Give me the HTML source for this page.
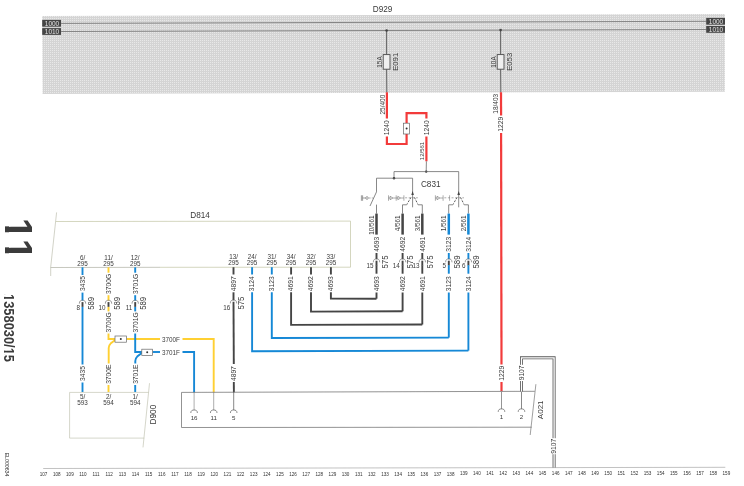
<!DOCTYPE html>
<html><head><meta charset="utf-8"><title>Wiring diagram 11</title>
<style>html,body{margin:0;padding:0;background:#fff}svg{display:block}text{font-family:"Liberation Sans",sans-serif}</style>
</head><body>
<svg width="744" height="486" viewBox="0 0 744 486">
<rect width="744" height="486" fill="#fff"/>
<g opacity="0.999" filter="url(#soft)">
<defs><filter id="soft" x="0" y="0" width="744" height="486" filterUnits="userSpaceOnUse"><feGaussianBlur stdDeviation="0.35"/></filter><pattern id="dots" width="2" height="2" patternUnits="userSpaceOnUse"><rect width="2" height="2" fill="#d4d4d4"/><rect x="0" y="0" width="1" height="1" fill="#e8e8e8"/></pattern></defs>
<polygon points="42.2,16 724.9,14 724.9,91.8 42.6,93.9" fill="url(#dots)"/>
<line x1="61" y1="23.4" x2="706.4" y2="21.3" stroke="#7a7a7a" stroke-width="0.9" />
<line x1="61" y1="31.5" x2="706.4" y2="29.5" stroke="#7a7a7a" stroke-width="0.9" />
<rect x="42.2" y="19.9" width="18.8" height="6.8" fill="#444"/>
<g transform="translate(52 25.74) scale(0.1)"><text font-size="65" text-anchor="middle" fill="#e4e4e4">1000</text></g>
<rect x="42.2" y="28.1" width="18.8" height="6.8" fill="#444"/>
<g transform="translate(52 33.94) scale(0.1)"><text font-size="65" text-anchor="middle" fill="#e4e4e4">1010</text></g>
<rect x="706.2" y="17.9" width="18.8" height="6.8" fill="#444"/>
<g transform="translate(716 23.74) scale(0.1)"><text font-size="65" text-anchor="middle" fill="#e4e4e4">1000</text></g>
<rect x="706.2" y="26.0" width="18.8" height="6.8" fill="#444"/>
<g transform="translate(716 31.84) scale(0.1)"><text font-size="65" text-anchor="middle" fill="#e4e4e4">1010</text></g>
<g transform="translate(382.6 11.67) scale(0.1)"><text font-size="82" text-anchor="middle" fill="#3a3a3a">D929</text></g>
<line x1="386.6" y1="30.5" x2="386.6" y2="54.5" stroke="#555" stroke-width="0.9" />
<line x1="386.6" y1="69.2" x2="386.8" y2="92.5" stroke="#555" stroke-width="0.9" />
<circle cx="386.6" cy="30.5" r="1.3" fill="#444"/>
<rect x="383.20000000000005" y="54.6" width="6.8" height="14.6" fill="#efefef" stroke="#4a4a4a" stroke-width="0.9"/>
<g transform="translate(382.4 62) rotate(-90) scale(0.1)"><text font-size="64" text-anchor="middle" fill="#3a3a3a">15A</text></g>
<g transform="translate(398.45 61.8) rotate(-90) scale(0.1)"><text font-size="77" text-anchor="middle" fill="#3a3a3a">E091</text></g>
<line x1="500.6" y1="30.1" x2="500.6" y2="54.5" stroke="#555" stroke-width="0.9" />
<line x1="500.6" y1="69.2" x2="500.8" y2="92.5" stroke="#555" stroke-width="0.9" />
<circle cx="500.6" cy="30.1" r="1.3" fill="#444"/>
<rect x="497.20000000000005" y="54.6" width="6.8" height="14.6" fill="#efefef" stroke="#4a4a4a" stroke-width="0.9"/>
<g transform="translate(496.4 62) rotate(-90) scale(0.1)"><text font-size="64" text-anchor="middle" fill="#3a3a3a">10A</text></g>
<g transform="translate(512.45 61.8) rotate(-90) scale(0.1)"><text font-size="77" text-anchor="middle" fill="#3a3a3a">E053</text></g>
<g transform="translate(384.74 104.6) rotate(-90) scale(0.1)"><text font-size="65" text-anchor="middle" fill="#3a3a3a">25/400</text></g>
<line x1="386.9" y1="92.3" x2="386.9" y2="118.5" stroke="#f23b3b" stroke-width="2.2" />
<g transform="translate(389.2 127.8) rotate(-90) scale(0.1)"><text font-size="67" text-anchor="middle" fill="#3a3a3a">1240</text></g>
<path d="M386.9 136.5 V144 H406.6 V134" stroke="#f23b3b" stroke-width="2.2" fill="none" />
<path d="M406.6 123.2 V113.1 H426.4 V118.5" stroke="#f23b3b" stroke-width="2.2" fill="none" />
<rect x="403.6" y="123.2" width="6" height="10.8" fill="#fff" stroke="#666" stroke-width="0.7"/>
<circle cx="406.6" cy="128.6" r="1" fill="#333"/>
<g transform="translate(428.7 127.8) rotate(-90) scale(0.1)"><text font-size="67" text-anchor="middle" fill="#3a3a3a">1240</text></g>
<line x1="426.4" y1="136.5" x2="426.4" y2="161.3" stroke="#f23b3b" stroke-width="2.2" />
<g transform="translate(423.96 151) rotate(-90) scale(0.1)"><text font-size="60" text-anchor="middle" fill="#3a3a3a">12/561</text></g>
<line x1="426.4" y1="161.3" x2="426.2" y2="171.6" stroke="#6a6a6a" stroke-width="0.8" />
<g transform="translate(498.04 103.8) rotate(-90) scale(0.1)"><text font-size="65" text-anchor="middle" fill="#3a3a3a">18/403</text></g>
<line x1="501" y1="92.2" x2="501.1" y2="115.5" stroke="#f23b3b" stroke-width="2.2" />
<g transform="translate(503.4 124.3) rotate(-90) scale(0.1)"><text font-size="67" text-anchor="middle" fill="#3a3a3a">1229</text></g>
<line x1="501.1" y1="133" x2="501.5" y2="364.5" stroke="#f23b3b" stroke-width="2.2" />
<g transform="translate(503.8 373.2) rotate(-90) scale(0.1)"><text font-size="67" text-anchor="middle" fill="#3a3a3a">1229</text></g>
<line x1="501.5" y1="382" x2="501.5" y2="391.4" stroke="#f23b3b" stroke-width="2.2" />
<circle cx="426.2" cy="171.6" r="1.2" fill="#333"/>
<path d="M394 178.2 V171.6 H458.7 V207.3" stroke="#6a6a6a" stroke-width="0.8" fill="none" />
<circle cx="394" cy="178.2" r="1.2" fill="#333"/>
<path d="M376.5 191.9 V178.2 H412.6 V207.3" stroke="#6a6a6a" stroke-width="0.8" fill="none" />
<g transform="translate(430.7 187.02) scale(0.1)"><text font-size="82" text-anchor="middle" fill="#3a3a3a">C831</text></g>
<line x1="376.5" y1="191.9" x2="370" y2="206" stroke="#6a6a6a" stroke-width="0.8" />
<line x1="376.5" y1="204.6" x2="376.5" y2="213.6" stroke="#6a6a6a" stroke-width="0.8" />
<path d="M361.4 195.3 V200.8 M362.6 195.3 V200.8 M362.6 198 H365.6" stroke="#5a5a5a" stroke-width="0.6" fill="none" />
<circle cx="367" cy="198" r="1.3" fill="none" stroke="#5a5a5a" stroke-width="0.6"/>
<line x1="369" y1="198" x2="374" y2="198" stroke="#6a6a6a" stroke-width="0.55" stroke-dasharray="1.6 1.2"/>
<path d="M412.6 191 L411.3 195 L413.9 195 Z" fill="#444"/>
<path d="M402.5 213.6 V204.8 H406.7 L407.3 204" stroke="#6a6a6a" stroke-width="0.8" fill="none" />
<path d="M422.3 213.6 V204.8 H418.1 L417.5 204" stroke="#6a6a6a" stroke-width="0.8" fill="none" />
<line x1="411" y1="197.4" x2="407.1" y2="203.9" stroke="#484848" stroke-width="0.9" stroke-dasharray="2.1 1.3"/>
<line x1="414.4" y1="197.4" x2="417.7" y2="203.9" stroke="#484848" stroke-width="0.9" stroke-dasharray="2.1 1.3"/>
<path d="M458.7 191 L457.4 195 L460 195 Z" fill="#444"/>
<path d="M448.7 213.6 V204.8 H452.9 L453.5 204" stroke="#6a6a6a" stroke-width="0.8" fill="none" />
<path d="M468.4 213.6 V204.8 H464.2 L463.6 204" stroke="#6a6a6a" stroke-width="0.8" fill="none" />
<line x1="457.1" y1="197.4" x2="453.3" y2="203.9" stroke="#484848" stroke-width="0.9" stroke-dasharray="2.1 1.3"/>
<line x1="460.5" y1="197.4" x2="463.8" y2="203.9" stroke="#484848" stroke-width="0.9" stroke-dasharray="2.1 1.3"/>
<path d="M388.5 195.3 V200.8" stroke="#6a6a6a" stroke-width="0.55" fill="none" />
<path d="M388.5 198 H390.1" stroke="#6a6a6a" stroke-width="0.55" fill="none" />
<path d="M390.1 196.3 L392.9 198 L390.1 199.7 Z" fill="none" stroke="#5a5a5a" stroke-width="0.55"/>
<path d="M392.9 198 H396.2 M396.2 195.3 V200.8" stroke="#6a6a6a" stroke-width="0.55" fill="none" />
<path d="M396.2 198 H397.8" stroke="#6a6a6a" stroke-width="0.55" fill="none" />
<path d="M397.8 196.3 L400.6 198 L397.8 199.7 Z" fill="none" stroke="#5a5a5a" stroke-width="0.55"/>
<path d="M400.6 198 H403.9 M403.9 195.3 V200.8" stroke="#6a6a6a" stroke-width="0.55" fill="none" />
<line x1="405.1" y1="197.8" x2="418" y2="197.8" stroke="#6a6a6a" stroke-width="0.55" stroke-dasharray="2 1.6"/>
<path d="M435.4 195.3 V200.8" stroke="#6a6a6a" stroke-width="0.55" fill="none" />
<path d="M435.4 198 H437" stroke="#6a6a6a" stroke-width="0.55" fill="none" />
<path d="M437 196.3 L439.8 198 L437 199.7 Z" fill="none" stroke="#5a5a5a" stroke-width="0.55"/>
<path d="M439.8 198 H443.1 M443.1 195.3 V200.8" stroke="#6a6a6a" stroke-width="0.55" fill="none" />
<path d="M449.6 195.3 V200.8" stroke="#6a6a6a" stroke-width="0.55" fill="none" />
<line x1="444.3" y1="197.8" x2="464" y2="197.8" stroke="#6a6a6a" stroke-width="0.55" stroke-dasharray="2 1.6"/>
<line x1="376.5" y1="213.6" x2="376.5" y2="234.6" stroke="#444444" stroke-width="2.5" />
<g transform="translate(374.07 215.4) rotate(-90) scale(0.1)"><text font-size="63" text-anchor="end" fill="#3a3a3a">10/561</text></g>
<g transform="translate(378.8 244.2) rotate(-90) scale(0.1)"><text font-size="67" text-anchor="middle" fill="#3a3a3a">4693</text></g>
<line x1="376.5" y1="253" x2="376.5" y2="259.2" stroke="#444444" stroke-width="1.9" />
<path d="M373.3 262.3 C373.3 259.5 374.74 258.9 376.5 258.9 C378.26 258.9 379.7 259.5 379.7 262.3" stroke="#6a6a6a" stroke-width="0.65" fill="none" />
<line x1="376.5" y1="260.7" x2="376.5" y2="265.5" stroke="#444444" stroke-width="1.9" />
<g transform="translate(373.6 268.47) scale(0.1)"><text font-size="63" text-anchor="end" fill="#3a3a3a">15</text></g>
<g transform="translate(387.56 262) rotate(-90) scale(0.0870 0.1)"><text font-size="89" text-anchor="middle" fill="#3a3a3a">575</text></g>
<line x1="376.5" y1="265.2" x2="376.5" y2="273.7" stroke="#444444" stroke-width="1.9" />
<g transform="translate(378.8 283.8) rotate(-90) scale(0.1)"><text font-size="67" text-anchor="middle" fill="#3a3a3a">4693</text></g>
<line x1="376.5" y1="292.5" x2="376.5" y2="298.7" stroke="#444444" stroke-width="1.9" />
<line x1="402.6" y1="213.6" x2="402.6" y2="234.6" stroke="#444444" stroke-width="2.5" />
<g transform="translate(400.17 215.4) rotate(-90) scale(0.1)"><text font-size="63" text-anchor="end" fill="#3a3a3a">4/561</text></g>
<g transform="translate(404.9 244.2) rotate(-90) scale(0.1)"><text font-size="67" text-anchor="middle" fill="#3a3a3a">4692</text></g>
<line x1="402.6" y1="253" x2="402.6" y2="259.2" stroke="#444444" stroke-width="1.9" />
<path d="M399.4 262.3 C399.4 259.5 400.84 258.9 402.6 258.9 C404.36 258.9 405.8 259.5 405.8 262.3" stroke="#6a6a6a" stroke-width="0.65" fill="none" />
<line x1="402.6" y1="260.7" x2="402.6" y2="265.5" stroke="#444444" stroke-width="1.9" />
<g transform="translate(399.7 268.47) scale(0.1)"><text font-size="63" text-anchor="end" fill="#3a3a3a">14</text></g>
<g transform="translate(412.66 262) rotate(-90) scale(0.0870 0.1)"><text font-size="89" text-anchor="middle" fill="#3a3a3a">575</text></g>
<line x1="402.6" y1="265.2" x2="402.6" y2="273.7" stroke="#444444" stroke-width="1.9" />
<g transform="translate(404.9 283.8) rotate(-90) scale(0.1)"><text font-size="67" text-anchor="middle" fill="#3a3a3a">4692</text></g>
<line x1="402.6" y1="292.5" x2="402.6" y2="311.3" stroke="#444444" stroke-width="1.9" />
<line x1="422.3" y1="213.6" x2="422.3" y2="234.6" stroke="#444444" stroke-width="2.5" />
<g transform="translate(419.87 215.4) rotate(-90) scale(0.1)"><text font-size="63" text-anchor="end" fill="#3a3a3a">3/561</text></g>
<g transform="translate(424.6 244.2) rotate(-90) scale(0.1)"><text font-size="67" text-anchor="middle" fill="#3a3a3a">4691</text></g>
<line x1="422.3" y1="253" x2="422.3" y2="259.2" stroke="#444444" stroke-width="1.9" />
<path d="M419.1 262.3 C419.1 259.5 420.54 258.9 422.3 258.9 C424.06 258.9 425.5 259.5 425.5 262.3" stroke="#6a6a6a" stroke-width="0.65" fill="none" />
<line x1="422.3" y1="260.7" x2="422.3" y2="265.5" stroke="#444444" stroke-width="1.9" />
<g transform="translate(419.4 268.47) scale(0.1)"><text font-size="63" text-anchor="end" fill="#3a3a3a">13</text></g>
<g transform="translate(433.46 262) rotate(-90) scale(0.0870 0.1)"><text font-size="89" text-anchor="middle" fill="#3a3a3a">575</text></g>
<line x1="422.3" y1="265.2" x2="422.3" y2="273.7" stroke="#444444" stroke-width="1.9" />
<g transform="translate(424.6 283.8) rotate(-90) scale(0.1)"><text font-size="67" text-anchor="middle" fill="#3a3a3a">4691</text></g>
<line x1="422.3" y1="292.5" x2="422.3" y2="324.5" stroke="#444444" stroke-width="1.9" />
<line x1="448.8" y1="213.6" x2="448.8" y2="234.6" stroke="#1488d6" stroke-width="2.5" />
<g transform="translate(446.37 215.4) rotate(-90) scale(0.1)"><text font-size="63" text-anchor="end" fill="#3a3a3a">1/561</text></g>
<g transform="translate(451.1 244.2) rotate(-90) scale(0.1)"><text font-size="67" text-anchor="middle" fill="#3a3a3a">3123</text></g>
<line x1="448.8" y1="253" x2="448.8" y2="259.2" stroke="#1488d6" stroke-width="1.9" />
<path d="M445.6 262.3 C445.6 259.5 447.04 258.9 448.8 258.9 C450.56 258.9 452 259.5 452 262.3" stroke="#6a6a6a" stroke-width="0.65" fill="none" />
<line x1="448.8" y1="260.7" x2="448.8" y2="265.5" stroke="#444444" stroke-width="1.9" />
<g transform="translate(445.9 268.47) scale(0.1)"><text font-size="63" text-anchor="end" fill="#3a3a3a">5</text></g>
<g transform="translate(459.86 262) rotate(-90) scale(0.0870 0.1)"><text font-size="89" text-anchor="middle" fill="#3a3a3a">589</text></g>
<line x1="448.8" y1="265.2" x2="448.8" y2="273.7" stroke="#1488d6" stroke-width="1.9" />
<g transform="translate(451.1 283.8) rotate(-90) scale(0.1)"><text font-size="67" text-anchor="middle" fill="#3a3a3a">3123</text></g>
<line x1="448.8" y1="292.5" x2="448.8" y2="337.6" stroke="#1488d6" stroke-width="1.9" />
<line x1="468.4" y1="213.6" x2="468.4" y2="234.6" stroke="#1488d6" stroke-width="2.5" />
<g transform="translate(465.97 215.4) rotate(-90) scale(0.1)"><text font-size="63" text-anchor="end" fill="#3a3a3a">2/561</text></g>
<g transform="translate(470.7 244.2) rotate(-90) scale(0.1)"><text font-size="67" text-anchor="middle" fill="#3a3a3a">3124</text></g>
<line x1="468.4" y1="253" x2="468.4" y2="259.2" stroke="#1488d6" stroke-width="1.9" />
<path d="M465.2 262.3 C465.2 259.5 466.64 258.9 468.4 258.9 C470.16 258.9 471.6 259.5 471.6 262.3" stroke="#6a6a6a" stroke-width="0.65" fill="none" />
<line x1="468.4" y1="260.7" x2="468.4" y2="265.5" stroke="#444444" stroke-width="1.9" />
<g transform="translate(465.5 268.47) scale(0.1)"><text font-size="63" text-anchor="end" fill="#3a3a3a">6</text></g>
<g transform="translate(479.46 262) rotate(-90) scale(0.0870 0.1)"><text font-size="89" text-anchor="middle" fill="#3a3a3a">589</text></g>
<line x1="468.4" y1="265.2" x2="468.4" y2="273.7" stroke="#1488d6" stroke-width="1.9" />
<g transform="translate(470.7 283.8) rotate(-90) scale(0.1)"><text font-size="67" text-anchor="middle" fill="#3a3a3a">3124</text></g>
<line x1="468.4" y1="292.5" x2="468.4" y2="350.6" stroke="#1488d6" stroke-width="1.9" />
<path d="M56.6 212.4 L50.7 267 V276" stroke="#b4b5a2" stroke-width="0.6" fill="none" />
<path d="M55.8 221.5 L350.5 221.1 V267.2" stroke="#c2c4a4" stroke-width="0.7" fill="none" />
<path d="M350.5 267.2 L160 267.3" stroke="#c2c4a4" stroke-width="0.7" fill="none" />
<path d="M160 267.3 L50.7 267.5" stroke="#aeafa2" stroke-width="0.7" fill="none" />
<g transform="translate(200.1 218.02) scale(0.1)"><text font-size="82" text-anchor="middle" fill="#3a3a3a">D814</text></g>
<g transform="translate(82.5 259.57) scale(0.1)"><text font-size="63" text-anchor="middle" fill="#3a3a3a">6/</text></g>
<g transform="translate(82.5 265.77) scale(0.1)"><text font-size="63" text-anchor="middle" fill="#3a3a3a">295</text></g>
<g transform="translate(108.5 259.57) scale(0.1)"><text font-size="63" text-anchor="middle" fill="#3a3a3a">11/</text></g>
<g transform="translate(108.5 265.77) scale(0.1)"><text font-size="63" text-anchor="middle" fill="#3a3a3a">295</text></g>
<g transform="translate(135.2 259.57) scale(0.1)"><text font-size="63" text-anchor="middle" fill="#3a3a3a">12/</text></g>
<g transform="translate(135.2 265.77) scale(0.1)"><text font-size="63" text-anchor="middle" fill="#3a3a3a">295</text></g>
<g transform="translate(233.5 258.87) scale(0.1)"><text font-size="63" text-anchor="middle" fill="#3a3a3a">13/</text></g>
<g transform="translate(233.5 265.07) scale(0.1)"><text font-size="63" text-anchor="middle" fill="#3a3a3a">295</text></g>
<g transform="translate(252.1 258.87) scale(0.1)"><text font-size="63" text-anchor="middle" fill="#3a3a3a">24/</text></g>
<g transform="translate(252.1 265.07) scale(0.1)"><text font-size="63" text-anchor="middle" fill="#3a3a3a">295</text></g>
<g transform="translate(271.8 258.87) scale(0.1)"><text font-size="63" text-anchor="middle" fill="#3a3a3a">31/</text></g>
<g transform="translate(271.8 265.07) scale(0.1)"><text font-size="63" text-anchor="middle" fill="#3a3a3a">295</text></g>
<g transform="translate(291.1 258.87) scale(0.1)"><text font-size="63" text-anchor="middle" fill="#3a3a3a">34/</text></g>
<g transform="translate(291.1 265.07) scale(0.1)"><text font-size="63" text-anchor="middle" fill="#3a3a3a">295</text></g>
<g transform="translate(311 258.87) scale(0.1)"><text font-size="63" text-anchor="middle" fill="#3a3a3a">32/</text></g>
<g transform="translate(311 265.07) scale(0.1)"><text font-size="63" text-anchor="middle" fill="#3a3a3a">295</text></g>
<g transform="translate(330.9 258.87) scale(0.1)"><text font-size="63" text-anchor="middle" fill="#3a3a3a">33/</text></g>
<g transform="translate(330.9 265.07) scale(0.1)"><text font-size="63" text-anchor="middle" fill="#3a3a3a">295</text></g>
<line x1="330.9" y1="267.2" x2="330.9" y2="274.5" stroke="#444444" stroke-width="1.9" />
<g transform="translate(333.2 283.8) rotate(-90) scale(0.1)"><text font-size="67" text-anchor="middle" fill="#3a3a3a">4693</text></g>
<path d="M330.9 292.3 V298.6 L376.5 298.7" stroke="#444444" stroke-width="1.9" fill="none" stroke-linejoin="miter"/>
<line x1="311" y1="267.2" x2="311" y2="274.5" stroke="#444444" stroke-width="1.9" />
<g transform="translate(313.3 283.8) rotate(-90) scale(0.1)"><text font-size="67" text-anchor="middle" fill="#3a3a3a">4692</text></g>
<path d="M311 292.3 V311.6 L402.6 311.3" stroke="#444444" stroke-width="1.9" fill="none" stroke-linejoin="miter"/>
<line x1="291.1" y1="267.2" x2="291.1" y2="274.5" stroke="#444444" stroke-width="1.9" />
<g transform="translate(293.4 283.8) rotate(-90) scale(0.1)"><text font-size="67" text-anchor="middle" fill="#3a3a3a">4691</text></g>
<path d="M291.1 292.3 V324.9 L422.3 324.5" stroke="#444444" stroke-width="1.9" fill="none" stroke-linejoin="miter"/>
<line x1="271.8" y1="267.2" x2="271.8" y2="274.5" stroke="#1488d6" stroke-width="1.9" />
<g transform="translate(274.1 283.8) rotate(-90) scale(0.1)"><text font-size="67" text-anchor="middle" fill="#3a3a3a">3123</text></g>
<path d="M271.8 292.3 V338.0 L448.8 337.6" stroke="#1488d6" stroke-width="1.9" fill="none" stroke-linejoin="miter"/>
<line x1="252.1" y1="267.2" x2="252.1" y2="274.5" stroke="#1488d6" stroke-width="1.9" />
<g transform="translate(254.4 283.8) rotate(-90) scale(0.1)"><text font-size="67" text-anchor="middle" fill="#3a3a3a">3124</text></g>
<path d="M252.1 292.3 V351.3 L468.4 350.6" stroke="#1488d6" stroke-width="1.9" fill="none" stroke-linejoin="miter"/>
<line x1="233.5" y1="267.2" x2="233.5" y2="274.5" stroke="#444444" stroke-width="1.9" />
<g transform="translate(235.8 283.8) rotate(-90) scale(0.1)"><text font-size="67" text-anchor="middle" fill="#3a3a3a">4897</text></g>
<line x1="233.5" y1="292.3" x2="233.5" y2="300.3" stroke="#444444" stroke-width="1.9" />
<path d="M230.3 303.4 C230.3 300.6 231.74 300 233.5 300 C235.26 300 236.7 300.6 236.7 303.4" stroke="#6a6a6a" stroke-width="0.65" fill="none" />
<g transform="translate(230.3 309.57) scale(0.1)"><text font-size="63" text-anchor="end" fill="#3a3a3a">16</text></g>
<g transform="translate(244.16 303.1) rotate(-90) scale(0.0870 0.1)"><text font-size="89" text-anchor="middle" fill="#3a3a3a">575</text></g>
<line x1="233.5" y1="301.8" x2="233.8" y2="364" stroke="#444444" stroke-width="1.9" />
<g transform="translate(236.1 373.6) rotate(-90) scale(0.1)"><text font-size="67" text-anchor="middle" fill="#3a3a3a">4897</text></g>
<line x1="233.8" y1="382" x2="233.9" y2="392.3" stroke="#444444" stroke-width="1.9" />
<line x1="82.5" y1="267.3" x2="82.5" y2="275" stroke="#1488d6" stroke-width="1.9" />
<g transform="translate(84.9 283.5) rotate(-90) scale(0.1)"><text font-size="67" text-anchor="middle" fill="#3a3a3a">3435</text></g>
<line x1="82.5" y1="292.6" x2="82.5" y2="300.6" stroke="#1488d6" stroke-width="1.9" />
<path d="M79.3 303.7 C79.3 300.9 80.74 300.3 82.5 300.3 C84.26 300.3 85.7 300.9 85.7 303.7" stroke="#6a6a6a" stroke-width="0.65" fill="none" />
<line x1="82.5" y1="302.1" x2="82.5" y2="306.9" stroke="#444444" stroke-width="1.9" />
<g transform="translate(79.9 309.87) scale(0.1)"><text font-size="63" text-anchor="end" fill="#3a3a3a">8</text></g>
<g transform="translate(93.56 303.4) rotate(-90) scale(0.0870 0.1)"><text font-size="89" text-anchor="middle" fill="#3a3a3a">589</text></g>
<line x1="82.5" y1="306.9" x2="82.5" y2="364.5" stroke="#1488d6" stroke-width="1.9" />
<g transform="translate(84.8 373.5) rotate(-90) scale(0.1)"><text font-size="67" text-anchor="middle" fill="#3a3a3a">3435</text></g>
<line x1="82.5" y1="382.5" x2="82.5" y2="392" stroke="#1488d6" stroke-width="1.9" />
<line x1="108.5" y1="267.3" x2="108.5" y2="272.7" stroke="#ffd030" stroke-width="1.9" />
<g transform="translate(110.9 283.9) rotate(-90) scale(0.1)"><text font-size="67" text-anchor="middle" fill="#3a3a3a">3700G</text></g>
<line x1="108.5" y1="295.2" x2="108.5" y2="300.6" stroke="#ffd030" stroke-width="1.9" />
<path d="M105.3 303.7 C105.3 300.9 106.74 300.3 108.5 300.3 C110.26 300.3 111.7 300.9 111.7 303.7" stroke="#6a6a6a" stroke-width="0.65" fill="none" />
<line x1="108.5" y1="302.1" x2="108.5" y2="306.9" stroke="#444444" stroke-width="1.9" />
<g transform="translate(105.6 309.87) scale(0.1)"><text font-size="63" text-anchor="end" fill="#3a3a3a">10</text></g>
<g transform="translate(119.56 303.4) rotate(-90) scale(0.0870 0.1)"><text font-size="89" text-anchor="middle" fill="#3a3a3a">589</text></g>
<line x1="108.5" y1="306.9" x2="108.5" y2="311.4" stroke="#ffd030" stroke-width="1.9" />
<g transform="translate(111 322.4) rotate(-90) scale(0.1)"><text font-size="67" text-anchor="middle" fill="#3a3a3a">3700G</text></g>
<path d="M108.5 333.5 V339 H115" stroke="#ffd030" stroke-width="1.9" fill="none" />
<path d="M115.2 340.1 L110.6 343.6 Q108.7 345.3 108.7 348 V363.6" stroke="#ffd030" stroke-width="1.9" fill="none" />
<line x1="126.5" y1="339" x2="160" y2="339" stroke="#ffd030" stroke-width="1.9" />
<rect x="115" y="336" width="11.5" height="6.2" fill="#fff" stroke="#666" stroke-width="0.7"/>
<circle cx="120.8" cy="339.1" r="1" fill="#333"/>
<g transform="translate(171 341.54) scale(0.0930 0.1)"><text font-size="68" text-anchor="middle" fill="#3a3a3a">3700F</text></g>
<path d="M182.5 339 H213.7 V392.4" stroke="#ffd030" stroke-width="1.9" fill="none" />
<g transform="translate(110.8 374.2) rotate(-90) scale(0.1)"><text font-size="67" text-anchor="middle" fill="#3a3a3a">3700E</text></g>
<line x1="108.5" y1="385" x2="108.5" y2="392" stroke="#ffd030" stroke-width="1.9" />
<line x1="135.2" y1="267.3" x2="135.2" y2="272.7" stroke="#1488d6" stroke-width="1.9" />
<g transform="translate(137.6 283.9) rotate(-90) scale(0.1)"><text font-size="67" text-anchor="middle" fill="#3a3a3a">3701G</text></g>
<line x1="135.2" y1="295.2" x2="135.2" y2="300.6" stroke="#1488d6" stroke-width="1.9" />
<path d="M132 303.7 C132 300.9 133.44 300.3 135.2 300.3 C136.96 300.3 138.4 300.9 138.4 303.7" stroke="#6a6a6a" stroke-width="0.65" fill="none" />
<line x1="135.2" y1="302.1" x2="135.2" y2="306.9" stroke="#444444" stroke-width="1.9" />
<g transform="translate(132.3 309.87) scale(0.1)"><text font-size="63" text-anchor="end" fill="#3a3a3a">11</text></g>
<g transform="translate(146.26 303.4) rotate(-90) scale(0.0870 0.1)"><text font-size="89" text-anchor="middle" fill="#3a3a3a">589</text></g>
<line x1="135.2" y1="306.9" x2="135.2" y2="311.4" stroke="#1488d6" stroke-width="1.9" />
<g transform="translate(137.5 322.4) rotate(-90) scale(0.1)"><text font-size="67" text-anchor="middle" fill="#3a3a3a">3701G</text></g>
<path d="M135.2 333.5 V352 H142" stroke="#1488d6" stroke-width="1.9" fill="none" />
<path d="M141.8 353 L137.2 356.6 Q135.29999999999998 358.3 135.29999999999998 361 V363.6" stroke="#1488d6" stroke-width="1.9" fill="none" />
<line x1="152.5" y1="352" x2="160" y2="352" stroke="#1488d6" stroke-width="1.9" />
<rect x="141.8" y="349.2" width="10.8" height="6.2" fill="#fff" stroke="#666" stroke-width="0.7"/>
<circle cx="147.2" cy="352.3" r="1" fill="#333"/>
<g transform="translate(171 354.54) scale(0.0930 0.1)"><text font-size="68" text-anchor="middle" fill="#3a3a3a">3701F</text></g>
<path d="M182.5 352 H194.1 V392.4" stroke="#1488d6" stroke-width="1.9" fill="none" />
<g transform="translate(137.5 374.2) rotate(-90) scale(0.1)"><text font-size="67" text-anchor="middle" fill="#3a3a3a">3701E</text></g>
<line x1="135.2" y1="385" x2="135.2" y2="392" stroke="#1488d6" stroke-width="1.9" />
<path d="M148.6 392.4 H69.6 V438.1 H144.2" stroke="#b9baa6" stroke-width="0.6" fill="none" />
<path d="M149.5 383.2 L143 447.4" stroke="#b9baa6" stroke-width="0.6" fill="none" />
<g transform="translate(82.5 398.67) scale(0.1)"><text font-size="63" text-anchor="middle" fill="#3a3a3a">5/</text></g>
<g transform="translate(82.5 404.87) scale(0.1)"><text font-size="63" text-anchor="middle" fill="#3a3a3a">593</text></g>
<g transform="translate(108.5 398.67) scale(0.1)"><text font-size="63" text-anchor="middle" fill="#3a3a3a">2/</text></g>
<g transform="translate(108.5 404.87) scale(0.1)"><text font-size="63" text-anchor="middle" fill="#3a3a3a">594</text></g>
<g transform="translate(135.2 398.67) scale(0.1)"><text font-size="63" text-anchor="middle" fill="#3a3a3a">1/</text></g>
<g transform="translate(135.2 404.87) scale(0.1)"><text font-size="63" text-anchor="middle" fill="#3a3a3a">594</text></g>
<g transform="translate(155.82 414.6) rotate(-90) scale(0.1)"><text font-size="82" text-anchor="middle" fill="#3a3a3a">D900</text></g>
<path d="M534.8 391.3 L181.5 392.4 V427.5 L531.7 427.2" stroke="#777" stroke-width="0.8" fill="none" />
<path d="M535.9 384.2 L530.2 435" stroke="#777" stroke-width="0.7" fill="none" />
<g transform="translate(542.95 409.8) rotate(-90) scale(0.1)"><text font-size="80" text-anchor="middle" fill="#3a3a3a">A021</text></g>
<line x1="194.1" y1="392" x2="194.1" y2="410" stroke="#8a8a8a" stroke-width="0.7" />
<path d="M190.8 413 C190.8 410.6 192.28 410 194.1 410 C195.91 410 197.4 410.6 197.4 413" stroke="#5a5a5a" stroke-width="0.7" fill="none" />
<g transform="translate(194.1 419.73) scale(0.1)"><text font-size="62" text-anchor="middle" fill="#3a3a3a">16</text></g>
<line x1="213.7" y1="392" x2="213.7" y2="410" stroke="#8a8a8a" stroke-width="0.7" />
<path d="M210.4 413 C210.4 410.6 211.88 410 213.7 410 C215.51 410 217 410.6 217 413" stroke="#5a5a5a" stroke-width="0.7" fill="none" />
<g transform="translate(213.7 419.73) scale(0.1)"><text font-size="62" text-anchor="middle" fill="#3a3a3a">11</text></g>
<line x1="233.7" y1="392" x2="233.7" y2="410" stroke="#555" stroke-width="0.7" />
<path d="M230.4 413 C230.4 410.6 231.88 410 233.7 410 C235.51 410 237 410.6 237 413" stroke="#5a5a5a" stroke-width="0.7" fill="none" />
<g transform="translate(233.7 419.73) scale(0.1)"><text font-size="62" text-anchor="middle" fill="#3a3a3a">5</text></g>
<line x1="501.5" y1="392" x2="501.5" y2="408.9" stroke="#666" stroke-width="0.7" />
<path d="M498.2 411.9 C498.2 409.5 499.69 408.9 501.5 408.9 C503.31 408.9 504.8 409.5 504.8 411.9" stroke="#5a5a5a" stroke-width="0.7" fill="none" />
<g transform="translate(501.5 418.63) scale(0.1)"><text font-size="62" text-anchor="middle" fill="#3a3a3a">1</text></g>
<line x1="521.5" y1="392" x2="521.5" y2="408.9" stroke="#555" stroke-width="0.7" />
<path d="M518.2 411.9 C518.2 409.5 519.68 408.9 521.5 408.9 C523.32 408.9 524.8 409.5 524.8 411.9" stroke="#5a5a5a" stroke-width="0.7" fill="none" />
<g transform="translate(521.5 418.63) scale(0.1)"><text font-size="62" text-anchor="middle" fill="#3a3a3a">2</text></g>
<path d="M521.5 391.4 V357.8 H554.1 V468" stroke="#5a5a5a" stroke-width="3.0" fill="none" stroke-linejoin="miter"/>
<path d="M521.5 391.4 V357.8 H554.1 V468" stroke="#fff" stroke-width="1.3" fill="none" stroke-linejoin="miter"/>
<rect x="518" y="364.8" width="7" height="16.2" fill="#fff"/>
<g transform="translate(523.8 372.9) rotate(-90) scale(0.1)"><text font-size="67" text-anchor="middle" fill="#3a3a3a">9107</text></g>
<rect x="550.5" y="438.2" width="7" height="16" fill="#fff"/>
<g transform="translate(556.4 446.2) rotate(-90) scale(0.1)"><text font-size="67" text-anchor="middle" fill="#3a3a3a">9107</text></g>
<line x1="43.2" y1="468.5" x2="725.3" y2="467.3" stroke="#a8a8a8" stroke-width="0.7" />
<g transform="translate(43.6 476.29) scale(0.0940 0.1)"><text font-size="49" text-anchor="middle" fill="#303030">107</text></g>
<g transform="translate(56.73 476.26) scale(0.0940 0.1)"><text font-size="49" text-anchor="middle" fill="#303030">108</text></g>
<g transform="translate(69.86 476.24) scale(0.0940 0.1)"><text font-size="49" text-anchor="middle" fill="#303030">109</text></g>
<g transform="translate(82.99 476.21) scale(0.0940 0.1)"><text font-size="49" text-anchor="middle" fill="#303030">110</text></g>
<g transform="translate(96.12 476.19) scale(0.0940 0.1)"><text font-size="49" text-anchor="middle" fill="#303030">111</text></g>
<g transform="translate(109.25 476.16) scale(0.0940 0.1)"><text font-size="49" text-anchor="middle" fill="#303030">112</text></g>
<g transform="translate(122.38 476.14) scale(0.0940 0.1)"><text font-size="49" text-anchor="middle" fill="#303030">113</text></g>
<g transform="translate(135.51 476.11) scale(0.0940 0.1)"><text font-size="49" text-anchor="middle" fill="#303030">114</text></g>
<g transform="translate(148.64 476.09) scale(0.0940 0.1)"><text font-size="49" text-anchor="middle" fill="#303030">115</text></g>
<g transform="translate(161.77 476.06) scale(0.0940 0.1)"><text font-size="49" text-anchor="middle" fill="#303030">116</text></g>
<g transform="translate(174.9 476.04) scale(0.0940 0.1)"><text font-size="49" text-anchor="middle" fill="#303030">117</text></g>
<g transform="translate(188.03 476.01) scale(0.0940 0.1)"><text font-size="49" text-anchor="middle" fill="#303030">118</text></g>
<g transform="translate(201.16 475.99) scale(0.0940 0.1)"><text font-size="49" text-anchor="middle" fill="#303030">119</text></g>
<g transform="translate(214.29 475.96) scale(0.0940 0.1)"><text font-size="49" text-anchor="middle" fill="#303030">120</text></g>
<g transform="translate(227.42 475.94) scale(0.0940 0.1)"><text font-size="49" text-anchor="middle" fill="#303030">121</text></g>
<g transform="translate(240.55 475.91) scale(0.0940 0.1)"><text font-size="49" text-anchor="middle" fill="#303030">122</text></g>
<g transform="translate(253.68 475.89) scale(0.0940 0.1)"><text font-size="49" text-anchor="middle" fill="#303030">123</text></g>
<g transform="translate(266.81 475.86) scale(0.0940 0.1)"><text font-size="49" text-anchor="middle" fill="#303030">124</text></g>
<g transform="translate(279.94 475.84) scale(0.0940 0.1)"><text font-size="49" text-anchor="middle" fill="#303030">125</text></g>
<g transform="translate(293.07 475.81) scale(0.0940 0.1)"><text font-size="49" text-anchor="middle" fill="#303030">126</text></g>
<g transform="translate(306.2 475.79) scale(0.0940 0.1)"><text font-size="49" text-anchor="middle" fill="#303030">127</text></g>
<g transform="translate(319.33 475.76) scale(0.0940 0.1)"><text font-size="49" text-anchor="middle" fill="#303030">128</text></g>
<g transform="translate(332.46 475.74) scale(0.0940 0.1)"><text font-size="49" text-anchor="middle" fill="#303030">129</text></g>
<g transform="translate(345.59 475.71) scale(0.0940 0.1)"><text font-size="49" text-anchor="middle" fill="#303030">130</text></g>
<g transform="translate(358.72 475.69) scale(0.0940 0.1)"><text font-size="49" text-anchor="middle" fill="#303030">131</text></g>
<g transform="translate(371.85 475.66) scale(0.0940 0.1)"><text font-size="49" text-anchor="middle" fill="#303030">132</text></g>
<g transform="translate(384.98 475.64) scale(0.0940 0.1)"><text font-size="49" text-anchor="middle" fill="#303030">133</text></g>
<g transform="translate(398.11 475.61) scale(0.0940 0.1)"><text font-size="49" text-anchor="middle" fill="#303030">134</text></g>
<g transform="translate(411.24 475.59) scale(0.0940 0.1)"><text font-size="49" text-anchor="middle" fill="#303030">135</text></g>
<g transform="translate(424.37 475.56) scale(0.0940 0.1)"><text font-size="49" text-anchor="middle" fill="#303030">136</text></g>
<g transform="translate(437.5 475.54) scale(0.0940 0.1)"><text font-size="49" text-anchor="middle" fill="#303030">137</text></g>
<g transform="translate(450.63 475.51) scale(0.0940 0.1)"><text font-size="49" text-anchor="middle" fill="#303030">138</text></g>
<g transform="translate(463.76 475.49) scale(0.0940 0.1)"><text font-size="49" text-anchor="middle" fill="#303030">139</text></g>
<g transform="translate(476.89 475.46) scale(0.0940 0.1)"><text font-size="49" text-anchor="middle" fill="#303030">140</text></g>
<g transform="translate(490.02 475.44) scale(0.0940 0.1)"><text font-size="49" text-anchor="middle" fill="#303030">141</text></g>
<g transform="translate(503.15 475.41) scale(0.0940 0.1)"><text font-size="49" text-anchor="middle" fill="#303030">142</text></g>
<g transform="translate(516.28 475.39) scale(0.0940 0.1)"><text font-size="49" text-anchor="middle" fill="#303030">143</text></g>
<g transform="translate(529.41 475.36) scale(0.0940 0.1)"><text font-size="49" text-anchor="middle" fill="#303030">144</text></g>
<g transform="translate(542.54 475.34) scale(0.0940 0.1)"><text font-size="49" text-anchor="middle" fill="#303030">145</text></g>
<g transform="translate(555.67 475.31) scale(0.0940 0.1)"><text font-size="49" text-anchor="middle" fill="#303030">146</text></g>
<g transform="translate(568.8 475.29) scale(0.0940 0.1)"><text font-size="49" text-anchor="middle" fill="#303030">147</text></g>
<g transform="translate(581.93 475.26) scale(0.0940 0.1)"><text font-size="49" text-anchor="middle" fill="#303030">148</text></g>
<g transform="translate(595.06 475.24) scale(0.0940 0.1)"><text font-size="49" text-anchor="middle" fill="#303030">149</text></g>
<g transform="translate(608.19 475.21) scale(0.0940 0.1)"><text font-size="49" text-anchor="middle" fill="#303030">150</text></g>
<g transform="translate(621.32 475.19) scale(0.0940 0.1)"><text font-size="49" text-anchor="middle" fill="#303030">151</text></g>
<g transform="translate(634.45 475.16) scale(0.0940 0.1)"><text font-size="49" text-anchor="middle" fill="#303030">152</text></g>
<g transform="translate(647.58 475.14) scale(0.0940 0.1)"><text font-size="49" text-anchor="middle" fill="#303030">153</text></g>
<g transform="translate(660.71 475.11) scale(0.0940 0.1)"><text font-size="49" text-anchor="middle" fill="#303030">154</text></g>
<g transform="translate(673.84 475.09) scale(0.0940 0.1)"><text font-size="49" text-anchor="middle" fill="#303030">155</text></g>
<g transform="translate(686.97 475.06) scale(0.0940 0.1)"><text font-size="49" text-anchor="middle" fill="#303030">156</text></g>
<g transform="translate(700.1 475.04) scale(0.0940 0.1)"><text font-size="49" text-anchor="middle" fill="#303030">157</text></g>
<g transform="translate(713.23 475.01) scale(0.0940 0.1)"><text font-size="49" text-anchor="middle" fill="#303030">158</text></g>
<g transform="translate(726.36 474.99) scale(0.0940 0.1)"><text font-size="49" text-anchor="middle" fill="#303030">159</text></g>
<g transform="translate(4.80 238.90) rotate(90) scale(0.018424 0.018896)">
<text font-size="2048" text-anchor="middle" fill="#3a3a3a" font-weight="bold" style="font-kerning:none">11</text>
<rect x="-1079" y="-300" width="398" height="360" fill="#fff"/>
<rect x="-360" y="-300" width="360" height="360" fill="#fff"/>
<rect x="60" y="-300" width="398" height="360" fill="#fff"/>
<rect x="779" y="-300" width="360" height="360" fill="#fff"/>
</g>
<g transform="translate(4.00 328.00) rotate(90) scale(0.006286 0.007520)">
<text font-size="2048" text-anchor="middle" fill="#3a3a3a" font-weight="bold" style="font-kerning:none">1358030/15</text>
<rect x="-5350" y="-300" width="398" height="360" fill="#fff"/>
<rect x="-4631" y="-300" width="360" height="360" fill="#fff"/>
<rect x="3192" y="-300" width="398" height="360" fill="#fff"/>
<rect x="3911" y="-300" width="360" height="360" fill="#fff"/>
</g>
<g transform="translate(4.97 464.5) rotate(90) scale(0.0930 0.1)"><text font-size="56" text-anchor="middle" fill="#2a2a2a">EL000634</text></g>
</g>
</svg>
</body></html>
